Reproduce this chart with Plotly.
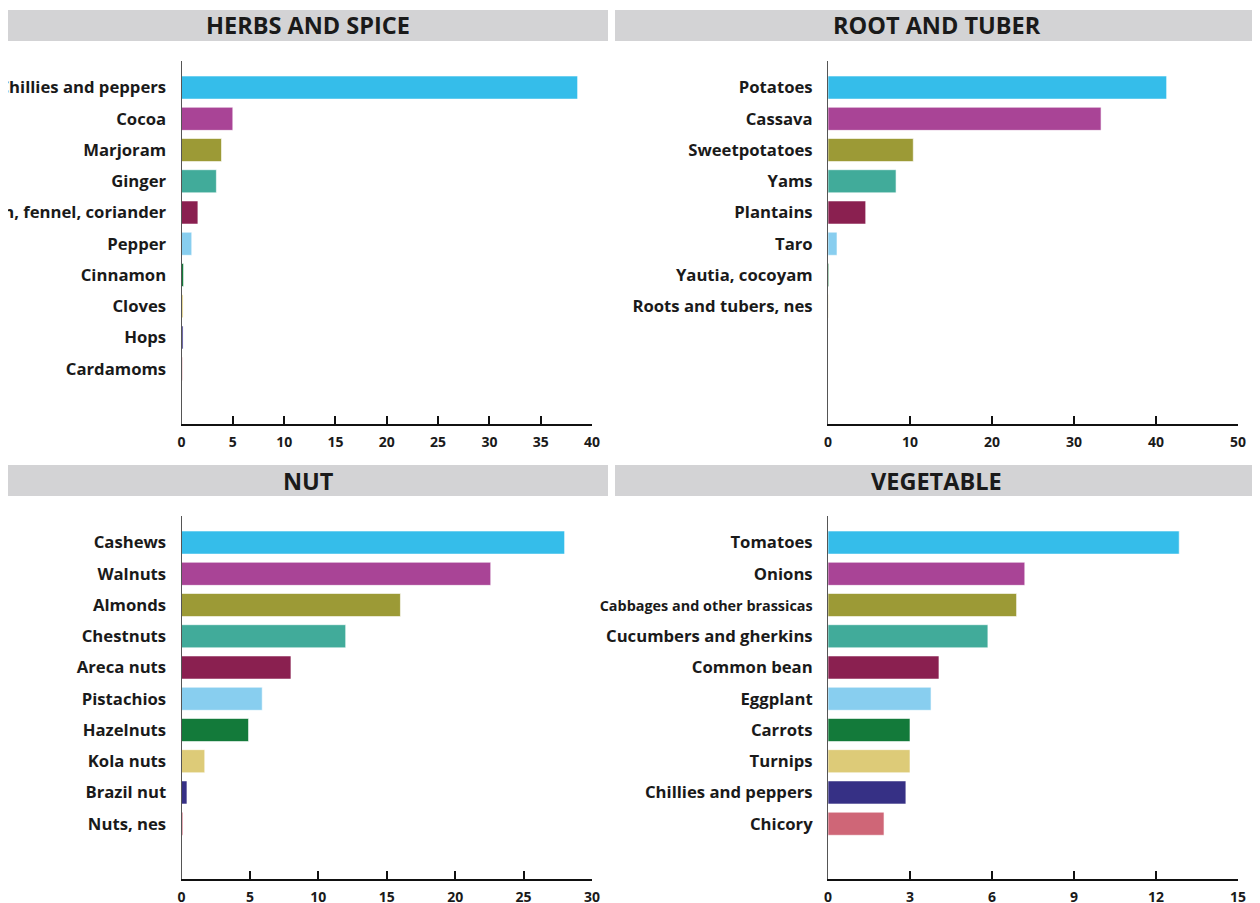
import plotly.graph_objects as go

herbs_labels = ["Chillies and peppers", "Cocoa", "Marjoram", "Ginger",
                "Anise, badian, fennel, coriander", "Pepper", "Cinnamon",
                "Cloves", "Hops", "Cardamoms"]
herbs_values = [38.6, 5.0, 3.9, 3.4, 1.6, 1.0, 0.2, 0.15, 0.15, 0.1]

root_labels = ["Potatoes", "Cassava", "Sweetpotatoes", "Yams", "Plantains",
               "Taro", "Yautia, cocoyam", "Roots and tubers, nes"]
root_values = [41.3, 33.3, 10.4, 8.3, 4.6, 1.1, 0.1, 0.05]

nut_labels = ["Cashews", "Walnuts", "Almonds", "Chestnuts", "Areca nuts",
              "Pistachios", "Hazelnuts", "Kola nuts", "Brazil nut", "Nuts, nes"]
nut_values = [28.0, 22.6, 16.0, 12.0, 8.0, 5.9, 4.9, 1.7, 0.4, 0.1]

veg_labels = ["Tomatoes", "Onions", "Cabbages and other brassicas",
              "Cucumbers and gherkins", "Common bean", "Eggplant", "Carrots",
              "Turnips", "Chillies and peppers", "Chicory"]
veg_values = [12.85, 7.2, 6.9, 5.85, 4.06, 3.77, 3.0, 3.0, 2.85, 2.05]

titles = ["HERBS AND SPICE", "ROOT AND TUBER", "NUT", "VEGETABLE"]
x_max = [40, 50, 30, 15]
x_dtick = [5, 10, 5, 3]

colors = ["#35BDEA", "#A94496", "#9C9A36", "#41AB9A", "#8A2050",
          "#88CEEF", "#137A3A", "#DDCB78", "#363085", "#CF6677"]

# page body has an 8px margin, so the figure is drawn 8px in from the corner
OFF = 8
W, H = 1260 - OFF, 903 - OFF
FONT = "Open Sans"
TXT = "#1a1a1a"

panels = [(herbs_labels, herbs_values), (root_labels, root_values),
          (nut_labels, nut_values), (veg_labels, veg_values)]

# pixel geometry (page coordinates)
x_px = [(181.5, 592), (828, 1238), (181.5, 592), (828, 1238)]
y_px = [(61, 424), (61, 424), (516, 879), (516, 879)]
hdr_x = [(8, 608), (615, 1258), (8, 608), (615, 1258)]
hdr_y = [(10, 41), (10, 41), (465, 496), (465, 496)]


def fx(px):
    return (px - OFF) / W


def fy(py):
    return 1 - (py - OFF) / H


fig = go.Figure()
layout = dict(width=W, height=H, margin=dict(l=0, r=0, t=0, b=0, autoexpand=False),
              paper_bgcolor="white", plot_bgcolor="white", showlegend=False)
shapes = []
annotations = []

for i, (labels, values) in enumerate(panels):
    n = i + 1
    xa = "x" if n == 1 else f"x{n}"
    ya = "y" if n == 1 else f"y{n}"
    fig.add_trace(go.Bar(
        x=values, y=labels, orientation="h", xaxis=xa, yaxis=ya,
        marker=dict(color=colors[:len(labels)],
                    line=dict(color="rgba(255,255,255,0.6)", width=1)),
        width=0.74, hoverinfo="x+y"))
    ticktext = [
        f"<span style='font-size:14.4px'>{t}</span>" if len(t) > 24 and i == 3 else t
        for t in labels]
    layout["xaxis" if n == 1 else f"xaxis{n}"] = dict(
        domain=[fx(x_px[i][0]), fx(x_px[i][1])], anchor=ya,
        range=[0, x_max[i]], dtick=x_dtick[i], tick0=0,
        showgrid=False, zeroline=False, showline=True,
        linecolor="#111", linewidth=2, ticks="inside", ticklen=8,
        tickwidth=2, tickcolor="#111", ticklabelstandoff=4, automargin=False,
        tickfont=dict(family=FONT, size=14, color=TXT, weight="bold"),
        fixedrange=True)
    layout["yaxis" if n == 1 else f"yaxis{n}"] = dict(
        domain=[fy(y_px[i][1]), fy(y_px[i][0])], anchor=xa,
        type="category", categoryorder="array", categoryarray=labels,
        tickvals=labels, ticktext=ticktext,
        range=[10.77, -0.85], showgrid=False,
        zeroline=False, showline=True, linecolor="#555", linewidth=1,
        ticks="", ticklabelstandoff=11, automargin=False,
        tickfont=dict(family=FONT, size=16.7, color=TXT, weight="bold"),
        fixedrange=True)
    shapes.append(dict(type="rect", xref="paper", yref="paper",
                       x0=fx(hdr_x[i][0]), x1=fx(hdr_x[i][1]),
                       y0=fy(hdr_y[i][1]), y1=fy(hdr_y[i][0]),
                       fillcolor="#D3D3D5", line=dict(width=0), layer="below"))
    annotations.append(dict(text=titles[i], xref="paper", yref="paper",
                            x=fx((hdr_x[i][0] + hdr_x[i][1]) / 2),
                            y=fy((hdr_y[i][0] + hdr_y[i][1]) / 2),
                            xanchor="center", yanchor="middle", showarrow=False,
                            font=dict(family=FONT, size=23.5, color=TXT, weight="bold")))

layout["shapes"] = shapes
layout["annotations"] = annotations
fig.update_layout(**layout)
fig.write_html("out.html")
